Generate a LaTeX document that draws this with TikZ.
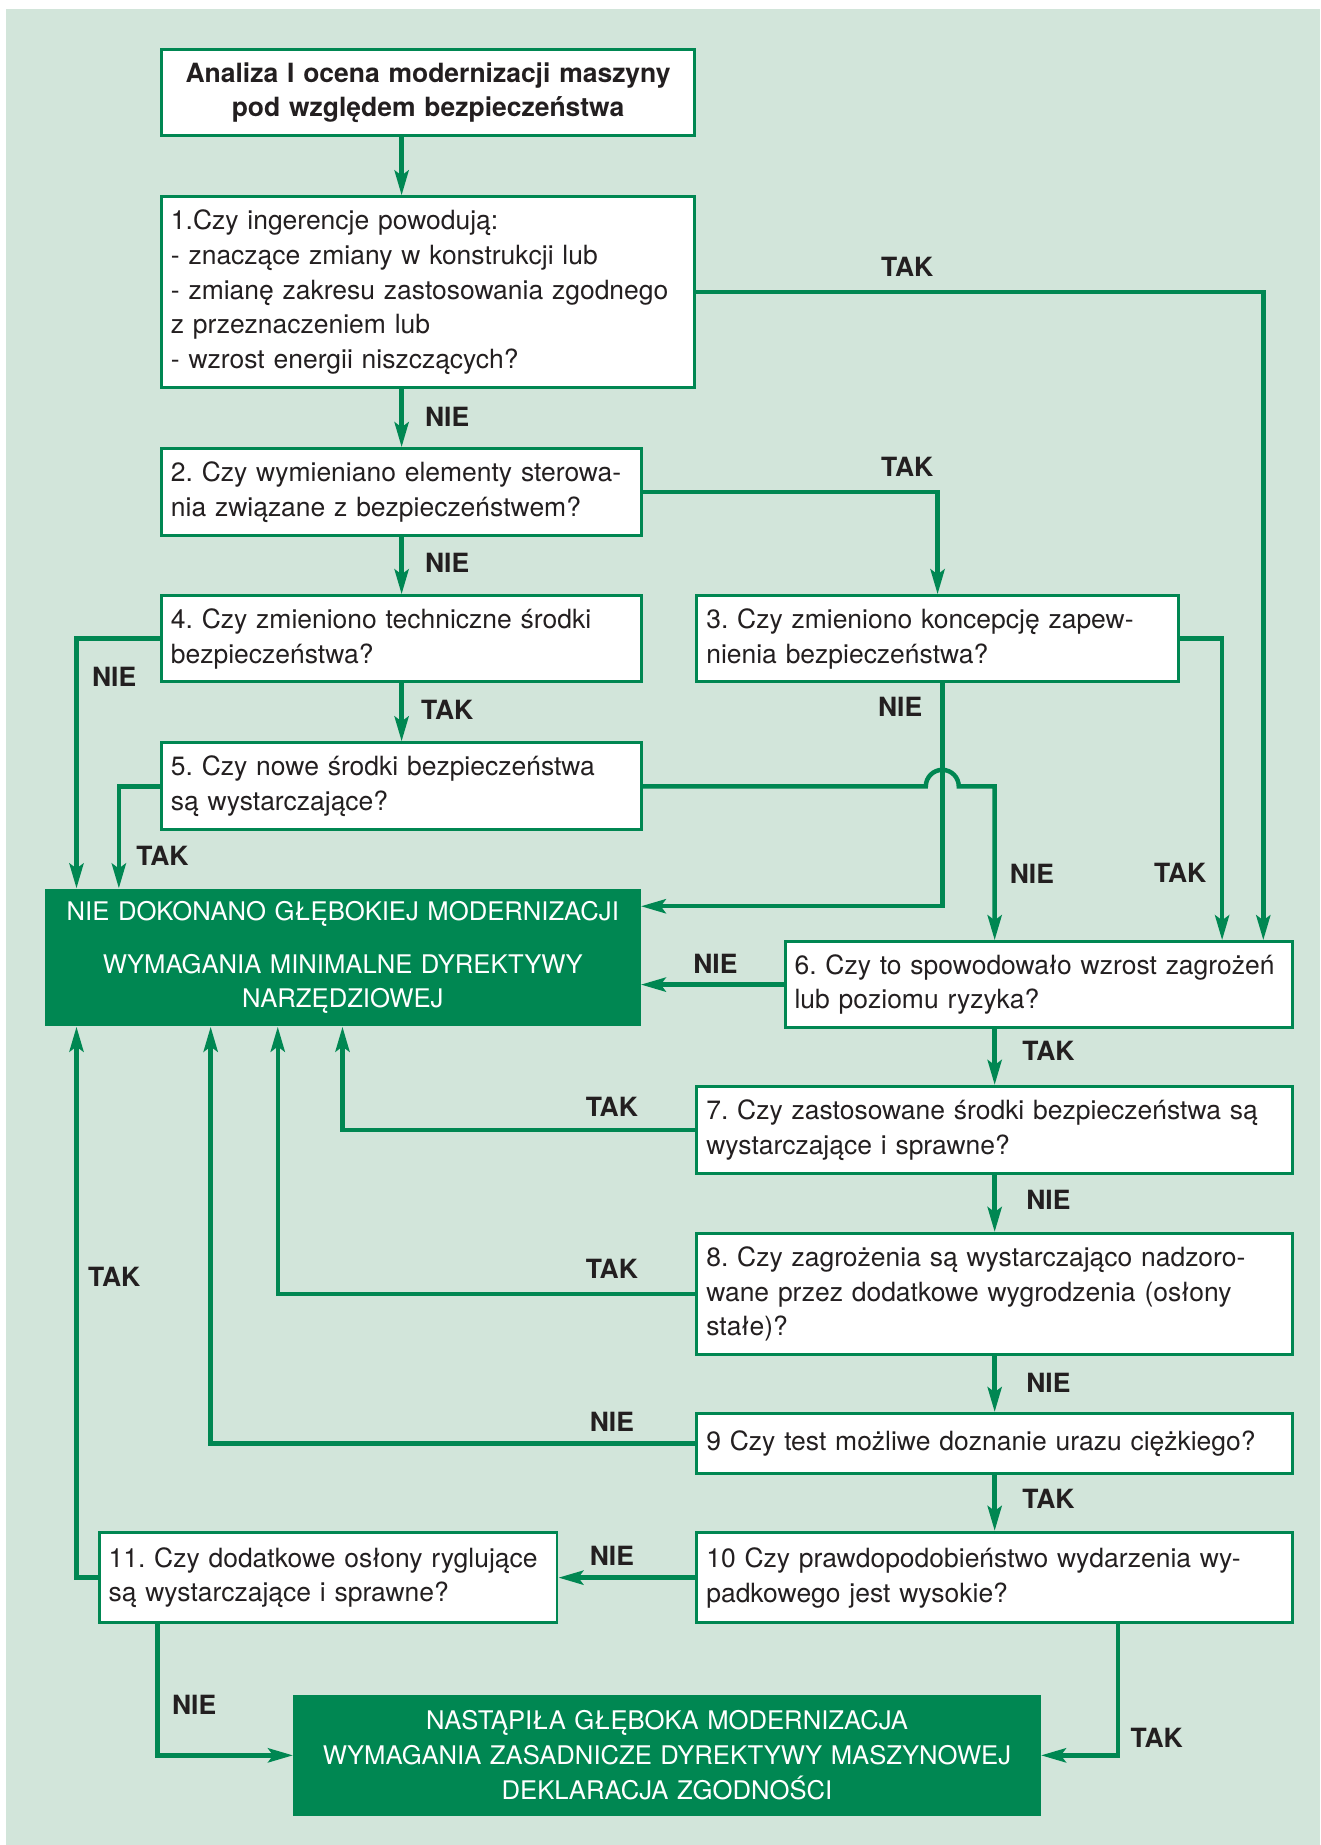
\documentclass[tikz,border=0pt]{standalone}
\usepackage{fontspec}
\setmainfont{TeX Gyre Heros}
\usetikzlibrary{arrows.meta}
\definecolor{ramka}{RGB}{0,135,82}
\definecolor{tlo}{RGB}{210,229,218}
\definecolor{tekst}{RGB}{35,31,32}
\frenchspacing
\begin{document}
\begin{tikzpicture}[x=0.025cm,y=-0.025cm,
		pyt/.style 2 args={draw=ramka, line width=1.8pt, fill=white, anchor=north west, inner xsep=0.2cm, inner ysep=0pt, align=left, text=tekst, font=\fontsize{16}{21}\selectfont, text width=#1, minimum height=#2},
		wynik/.style 2 args={fill=ramka, anchor=north west, inner xsep=0.2cm, inner ysep=0pt, align=center, text=white, font=\fontsize{15.5}{21}\selectfont, text width=#1, minimum height=#2},
		strz/.style={draw=ramka, line width=2.7pt, -{Stealth[length=15pt,width=8.5pt,inset=3pt]}},
		odp/.style={text=tekst, font=\fontsize{16}{21}\selectfont\bfseries}]
	\useasboundingbox (0,0) rectangle (1122,1568);
	\fill[white] (0,0) rectangle (1122,1568);
	\fill[tlo] (5,8) rectangle (1122,1568);
	\node[pyt={10.925cm}{1.825cm}, align=center, font=\fontsize{16}{21}\selectfont\bfseries] (b0) at (136,41) {Analiza I ocena modernizacji maszyny\\pod względem bezpieczeństwa};
	\node[pyt={10.925cm}{4.05cm}] (b1) at (136,166) {1.Czy ingerencje powodują:\\- znaczące zmiany w konstrukcji lub\\- zmianę zakresu zastosowania zgodnego\\z przeznaczeniem lub\\- wzrost energii niszczących?};
	\node[pyt={9.8cm}{1.85cm}] (b2) at (136,380) {2. Czy wymieniano elementy sterowa-\\nia związane z bezpieczeństwem?};
	\node[pyt={9.8cm}{1.825cm}] (b4) at (136,505) {4. Czy zmieniono techniczne środki\\bezpieczeństwa?};
	\node[pyt={9.825cm}{1.825cm}] (b3) at (591,505) {3. Czy zmieniono koncepcję zapew-\\nienia bezpieczeństwa?};
	\node[pyt={9.8cm}{1.85cm}] (b5) at (136,630) {5. Czy nowe środki bezpieczeństwa\\są wystarczające?};
	\node[wynik={12.25cm}{2.925cm}] (g1) at (38,755) {NIE DOKONANO GŁĘBOKIEJ MODERNIZACJI\\[0.38cm]WYMAGANIA MINIMALNE DYREKTYWY\\NARZĘDZIOWEJ};
	\node[pyt={10.375cm}{1.825cm}] (b6) at (666,799) {6. Czy to spowodowało wzrost zagrożeń\\lub poziomu ryzyka?};
	\node[pyt={12.25cm}{1.85cm}] (b7) at (591,922) {7. Czy zastosowane środki bezpieczeństwa są\\wystarczające i sprawne?};
	\node[pyt={12.25cm}{2.575cm}] (b8) at (591,1047) {8. Czy zagrożenia są wystarczająco nadzoro-\\wane przez dodatkowe wygrodzenia (osłony\\stałe)?};
	\node[pyt={12.25cm}{1.275cm}] (b9) at (591,1200) {9 Czy test możliwe doznanie urazu ciężkiego?};
	\node[pyt={12.25cm}{1.925cm}] (b10) at (591,1301) {10 Czy prawdopodobieństwo wydarzenia wy-\\padkowego jest wysokie?};
	\node[pyt={9.325cm}{1.925cm}] (b11) at (83,1301) {11. Czy dodatkowe osłony ryglujące\\są wystarczające i sprawne?};
	\node[wynik={15.475cm}{2.575cm}] (g2) at (249,1440) {NASTĄPIŁA GŁĘBOKA MODERNIZACJA\\WYMAGANIA ZASADNICZE DYREKTYWY MASZYNOWEJ\\DEKLARACJA ZGODNOŚCI};
	\coordinate (c3) at ([xshift=0.1cm]b3.south);
	\draw[strz] (b2.north |- b0.south) -- (b2.north |- b1.north);
	\draw[strz] (b2.north |- b1.south) -- (b2.north);
	\draw[strz] (b1.east) -| ([xshift=-0.65cm]b6.north east);
	\draw[strz] (b2.east) -| (b3.north);
	\draw[strz] (b2.south) -- (b4.north);
	\draw[strz] (b4.west) -| ([xshift=0.675cm]g1.north west);
	\draw[strz] (b4.south) -- (b5.north);
	\draw[strz] (b3.east) -| ([xshift=-1.525cm]b6.north east);
	\draw[strz] (c3) |- ([yshift=1.09cm]g1.east);
	\draw[strz] (b5.east) -- ([xshift=-0.35cm]c3 |- b5.east) arc[start angle=180, end angle=0, radius=0.35cm] -| (b7.north |- b6.north);
	\draw[strz] (b5.west) -| ([xshift=1.575cm]g1.north west);
	\draw[strz] (b6.west) -- (g1.east |- b6.west);
	\draw[strz] (b7.north |- b6.south) -- (b7.north);
	\draw[strz] (b7.west) -| ([xshift=6.325cm]g1.south west);
	\draw[strz] (b7.south) -- (b8.north);
	\draw[strz] (b8.west) -| ([xshift=4.95cm]g1.south west);
	\draw[strz] (b8.south) -- (b9.north);
	\draw[strz] (b9.west) -| ([xshift=3.525cm]g1.south west);
	\draw[strz] (b9.south) -- (b10.north);
	\draw[strz] (b10.west) -- (b11.east);
	\draw[strz] (b11.west) -| ([xshift=0.675cm]g1.south west);
	\draw[strz] ([xshift=1.275cm]b11.south west) |- (g2.west);
	\draw[strz] ([xshift=8.975cm]b10.south west) |- (g2.east);
	\node[odp] (n1) at (380,354) {NIE};
	\node[odp] (t1) at (771,227) {TAK};
	\node[odp] (t2) at (771,397) {TAK};
	\node[odp] (n2) at (380,478) {NIE};
	\node[odp] (n4) at (97,575) {NIE};
	\node[odp] (t4) at (380,603) {TAK};
	\node[odp] (n3) at (765,601) {NIE};
	\node[odp] (t5) at (138,727) {TAK};
	\node[odp] (n5) at (877,743) {NIE};
	\node[odp] (t3) at (1003,742) {TAK};
	\node[odp] (n6) at (608,819) {NIE};
	\node[odp] (t6) at (891,893) {TAK};
	\node[odp] (t7) at (520,941) {TAK};
	\node[odp] (n7) at (891,1020) {NIE};
	\node[odp] (t8) at (520,1078) {TAK};
	\node[odp] (t11) at (97,1085) {TAK};
	\node[odp] (n8) at (891,1175) {NIE};
	\node[odp] (n9) at (520,1208) {NIE};
	\node[odp] (t9) at (891,1274) {TAK};
	\node[odp] (n10) at (520,1322) {NIE};
	\node[odp] (n11) at (165,1449) {NIE};
	\node[odp] (t10) at (983,1477) {TAK};
\end{tikzpicture}
\end{document}
